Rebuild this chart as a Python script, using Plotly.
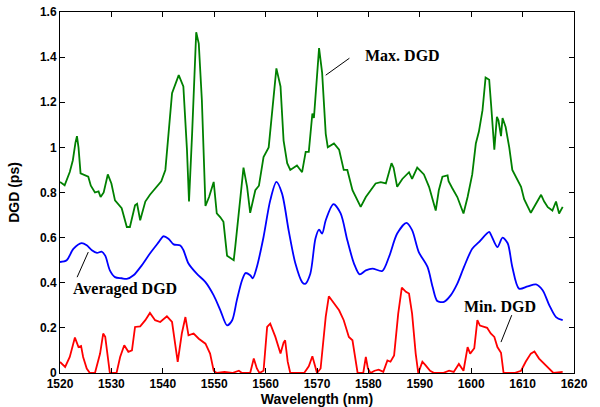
import plotly.graph_objects as go

# ---- data ----
max_wl = [1520.0, 1520.9, 1521.9, 1522.5, 1523.0, 1523.3, 1523.6, 1524.0, 1525.5, 1526.0, 1526.8, 1527.5,
          1527.9, 1528.5, 1529.3, 1530.0, 1530.7, 1532.0, 1533.0, 1533.6, 1534.6, 1535.0, 1535.6, 1536.6,
          1537.5, 1538.8, 1539.7, 1540.5, 1541.1, 1541.8, 1543.1, 1544.0, 1544.7, 1545.1, 1545.7, 1546.5,
          1547.0, 1547.6, 1548.3, 1549.0, 1549.9, 1550.5, 1551.2, 1551.8, 1552.5, 1553.8, 1554.1, 1555.1,
          1555.7, 1556.4, 1557.0, 1557.4, 1558.0, 1558.7, 1559.6, 1560.6, 1561.3, 1562.1, 1562.9, 1563.5,
          1564.2, 1564.8, 1566.1, 1567.1, 1567.8, 1568.4, 1569.1, 1569.4, 1570.4, 1571.0, 1571.7, 1572.1,
          1573.3, 1574.3, 1575.2, 1575.9, 1576.9, 1577.8, 1578.5, 1579.5, 1580.4, 1581.4, 1582.4, 1583.4,
          1584.5, 1584.9, 1585.6, 1586.6, 1587.9, 1588.5, 1589.5, 1590.8, 1591.8, 1592.5, 1593.1, 1593.7,
          1594.4, 1595.4, 1595.6, 1596.3, 1597.3, 1598.5, 1599.3, 1600.2, 1600.9, 1601.5, 1602.2, 1602.8,
          1603.5, 1603.9, 1604.5, 1605.0, 1605.3, 1605.8, 1606.1, 1606.7, 1607.4, 1608.0, 1609.0, 1609.7,
          1610.3, 1611.6, 1612.6, 1613.6, 1614.2, 1614.9, 1615.8, 1616.5, 1617.1, 1617.8]
max_dgd = [0.847, 0.832, 0.891, 0.943, 1.02, 1.05, 1.00, 0.885, 0.87, 0.83, 0.80, 0.805,
           0.78, 0.80, 0.88, 0.84, 0.765, 0.73, 0.647, 0.647, 0.743, 0.75, 0.677, 0.76,
           0.79, 0.825, 0.85, 0.90, 1.06, 1.24, 1.32, 1.27, 0.99, 0.76, 1.06, 1.51,
           1.46, 1.21, 0.74, 0.78, 0.847, 0.707, 0.69, 0.67, 0.52, 0.50, 0.56, 0.78,
           0.91, 0.825, 0.71, 0.75, 0.81, 0.83, 0.957, 1.0, 1.16, 1.35, 1.27, 1.03,
           0.93, 0.90, 0.92, 0.89, 0.98, 0.98, 1.15, 1.13, 1.44, 1.33, 1.06, 1.00,
           1.017, 0.99, 0.90, 0.90, 0.81, 0.765, 0.736, 0.78, 0.81, 0.84, 0.846, 0.84,
           0.93, 0.91, 0.825, 0.86, 0.89, 0.86, 0.91, 0.88, 0.825, 0.765, 0.72, 0.81,
           0.87, 0.876, 0.85, 0.82, 0.78, 0.707, 0.78, 0.88, 1.017, 1.07, 1.165, 1.31,
           1.30, 1.18, 0.99, 1.135, 1.12, 1.05, 1.13, 1.09, 1.0, 0.90, 0.854, 0.825,
           0.77, 0.71, 0.75, 0.79, 0.76, 0.735, 0.72, 0.76, 0.707, 0.736]

avg_wl = [1520.0, 1521.3, 1522.6, 1524.2, 1525.2, 1526.2, 1527.2, 1528.1, 1528.8, 1529.7, 1530.7, 1532.0,
          1533.0, 1534.3, 1535.9, 1537.5, 1539.2, 1540.1, 1541.1, 1542.1, 1543.4, 1544.0, 1545.0, 1546.6,
          1548.3, 1549.9, 1551.2, 1552.5, 1553.5, 1554.4, 1555.4, 1556.1, 1557.0, 1557.5, 1558.3, 1559.6,
          1560.9, 1562.1, 1563.2, 1564.5, 1565.8, 1567.1, 1567.7, 1568.7, 1569.7, 1570.4, 1571.0, 1571.7,
          1573.2, 1574.6, 1575.9, 1577.2, 1578.3, 1579.5, 1580.8, 1582.7, 1584.0, 1585.6, 1587.4, 1588.5,
          1589.8, 1591.5, 1592.5, 1593.4, 1594.7, 1596.0, 1597.3, 1598.6, 1600.2, 1601.5, 1603.5, 1603.9,
          1605.1, 1606.1, 1607.1, 1608.0, 1609.3, 1611.0, 1612.6, 1613.9, 1615.2, 1616.5, 1617.8]
avg_dgd = [0.492, 0.50, 0.55, 0.576, 0.566, 0.544, 0.532, 0.538, 0.52, 0.455, 0.425, 0.42,
           0.417, 0.433, 0.477, 0.53, 0.58, 0.606, 0.595, 0.57, 0.565, 0.545, 0.485, 0.44,
           0.403, 0.344, 0.278, 0.211, 0.234, 0.322, 0.41, 0.443, 0.433, 0.42, 0.47, 0.603,
           0.765, 0.847, 0.795, 0.63, 0.485, 0.403, 0.395, 0.44, 0.596, 0.635, 0.618, 0.677,
           0.748, 0.707, 0.588, 0.485, 0.437, 0.455, 0.463, 0.452, 0.514, 0.618, 0.665, 0.633,
           0.536, 0.47, 0.381, 0.319, 0.315, 0.344, 0.396, 0.47, 0.551, 0.58, 0.625, 0.61,
           0.558, 0.60, 0.575, 0.47, 0.374, 0.384, 0.393, 0.367, 0.30, 0.248, 0.234]

min_wl = [1520.0, 1521.0, 1521.9, 1522.9, 1523.6, 1524.1, 1524.5, 1525.2, 1525.8, 1526.8, 1527.8, 1528.4,
          1528.8, 1529.4, 1529.7, 1531.0, 1531.7, 1532.5, 1533.3, 1534.0, 1534.6, 1535.6, 1536.6, 1537.5,
          1538.5, 1539.5, 1540.8, 1541.8, 1542.4, 1542.9, 1543.7, 1544.4, 1545.0, 1546.0, 1547.0, 1548.3,
          1549.2, 1549.9, 1550.5, 1552.0, 1553.5, 1554.8, 1555.4, 1557.0, 1557.7, 1558.3, 1558.8, 1559.6,
          1560.3, 1560.9, 1561.9, 1562.9, 1563.5, 1563.8, 1564.3, 1564.8, 1567.5, 1568.4, 1569.1, 1569.7,
          1570.0, 1570.7, 1571.0, 1571.7, 1572.3, 1573.3, 1574.3, 1575.2, 1576.2, 1576.9, 1577.5, 1577.9,
          1579.0, 1579.5, 1579.9, 1580.4, 1581.2, 1582.0, 1582.9, 1583.7, 1584.3, 1585.0, 1585.8, 1586.5,
          1587.3, 1587.9, 1588.5, 1589.2, 1589.7, 1590.5, 1591.1, 1592.0, 1592.8, 1594.5, 1595.7, 1596.6,
          1597.6, 1598.5, 1599.3, 1599.8, 1600.6, 1601.2, 1601.7, 1602.5, 1603.1, 1603.8, 1604.5, 1605.1,
          1605.8, 1606.3, 1608.4, 1609.7, 1610.6, 1611.6, 1612.3, 1613.2, 1614.2, 1615.2, 1616.0, 1617.8]
min_dgd = [0.049, 0.027, 0.071, 0.157, 0.115, 0.12, 0.071, 0.02, 0.0, 0.0, 0.086, 0.175,
           0.16, 0.056, 0.0, 0.0, 0.071, 0.123, 0.094, 0.10, 0.204, 0.207, 0.234, 0.266,
           0.234, 0.226, 0.251, 0.226, 0.115, 0.049, 0.175, 0.248, 0.167, 0.175, 0.152, 0.13,
           0.086, 0.01, 0.0, 0.005, 0.0, 0.01, 0.0, 0.0, 0.064, 0.02, 0.0, 0.01,
           0.204, 0.219, 0.16, 0.086, 0.135, 0.145, 0.05, 0.0, 0.0, 0.03, 0.074, 0.02,
           0.0, 0.02, 0.086, 0.25, 0.34, 0.31, 0.278, 0.234, 0.16, 0.145, 0.056, 0.0,
           0.0, 0.071, 0.02, 0.0, 0.01, 0.015, 0.005, 0.056, 0.05, 0.078, 0.263, 0.378,
           0.36, 0.352, 0.263, 0.086, 0.0, 0.05, 0.035, 0.01, 0.0, 0.0, 0.01, 0.005,
           0.04, 0.01, 0.115, 0.086, 0.11, 0.234, 0.21, 0.204, 0.20, 0.175, 0.16, 0.115,
           0.09, 0.0, 0.0, 0.01, 0.05, 0.086, 0.095, 0.064, 0.04, 0.015, 0.0, 0.005]

x_ticks = [1520, 1530, 1540, 1550, 1560, 1570, 1580, 1590, 1600, 1610, 1620]
y_ticks = [0, 0.2, 0.4, 0.6, 0.8, 1.0, 1.2, 1.4, 1.6]
y_tick_text = ["0", "0.2", "0.4", "0.6", "0.8", "1", "1.2", "1.4", "1.6"]

labels = ["Max. DGD", "Averaged DGD", "Min. DGD"]

fig = go.Figure()
fig.add_trace(go.Scatter(x=max_wl, y=max_dgd, mode="lines", line=dict(color="#008000", width=1.8), name=labels[0]))
fig.add_trace(go.Scatter(x=avg_wl, y=avg_dgd, mode="lines", line=dict(color="#0000FF", width=1.8, shape="spline", smoothing=0.8), name=labels[1]))
fig.add_trace(go.Scatter(x=min_wl, y=min_dgd, mode="lines", line=dict(color="#FF0000", width=1.8), name=labels[2], cliponaxis=False))

tickfont = dict(family="Liberation Sans, Arial, sans-serif", size=12, color="black", weight="bold")
titlefont = dict(family="Liberation Sans, Arial, sans-serif", size=14, color="black", weight="bold")
annfont = dict(family="Liberation Serif, Times New Roman, serif", size=16, color="black", weight="bold")

fig.update_layout(
    width=600, height=407,
    margin=dict(l=60, r=26, t=12, b=34),
    plot_bgcolor="white", paper_bgcolor="white",
    showlegend=False,
    xaxis=dict(range=[1520, 1620], tickvals=x_ticks, ticktext=[str(t) for t in x_ticks],
               ticks="inside", ticklen=5, tickcolor="black", mirror="ticks", showline=True,
               linecolor="black", linewidth=1, showgrid=False, zeroline=False, tickfont=tickfont,
               automargin=False,
               title=dict(text="Wavelength (nm)", font=titlefont, standoff=4)),
    yaxis=dict(range=[0, 1.6], tickvals=y_ticks, ticktext=y_tick_text,
               ticks="inside", ticklen=5, tickcolor="black", mirror="ticks", showline=True,
               linecolor="black", linewidth=1, showgrid=False, zeroline=False, tickfont=tickfont,
               automargin=False,
               title=dict(text="DGD (ps)", font=titlefont, standoff=17)),
)

# leader lines (arrow without head) and labels
leaders = [
    (1571.7, 1.32, 1576.6, 1.40),
    (1525.5, 0.536, 1523.2, 0.418),
    (1605.8, 0.137, 1608.0, 0.263),
]
for hx, hy, tx, ty in leaders:
    fig.add_annotation(x=hx, y=hy, ax=tx, ay=ty, xref="x", yref="y", axref="x", ayref="y",
                       text="", showarrow=True, arrowhead=0, arrowwidth=1, arrowcolor="black")

label_pos = [(1578.9, 1.408), (1522.1, 0.371), (1598.3, 0.293)]
for (lx, ly), txt in zip(label_pos, labels):
    fig.add_annotation(x=lx, y=ly, xref="x", yref="y", text=txt, showarrow=False,
                       xanchor="left", yanchor="middle", font=annfont)

fig.write_html("out.html", config={"displayModeBar": False},
               post_script="document.body.style.margin='0';document.body.style.overflow='hidden';")
